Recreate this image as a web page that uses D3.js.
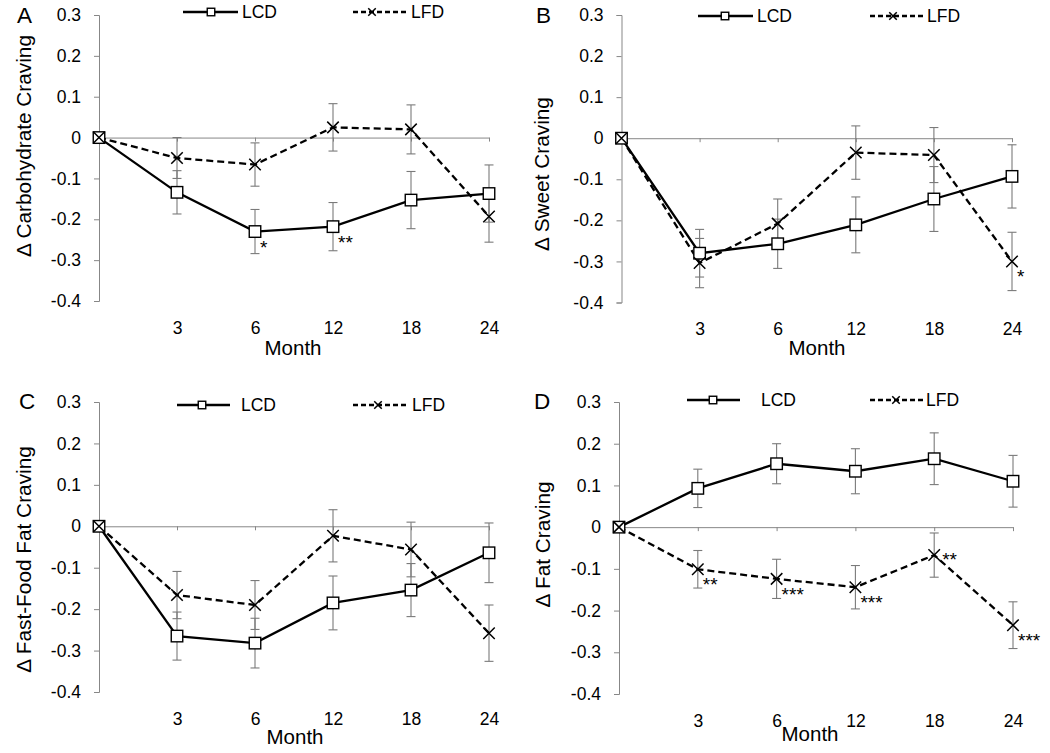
<!DOCTYPE html>
<html><head><meta charset="utf-8">
<script src="https://cdn.jsdelivr.net/npm/d3@7"></script>
<style>
body{margin:0;background:#fff}
svg{display:block}
text{font-family:"Liberation Sans",Arial,sans-serif;fill:#000}
</style>
</head><body>
<svg id="chart" width="1050" height="753"></svg>
<script>
// ---------- data ----------
const months = ["0","3","6","12","18","24"];
const xTickLabels = ["3","6","12","18","24"];
const yTicks = [-0.4,-0.3,-0.2,-0.1,0,0.1,0.2,0.3];
const seriesNames = ["LCD","LFD"];

// A: Carbohydrate craving
const lcdA   = [0, -0.134, -0.230, -0.218, -0.153, -0.137];
const lcdSeA = [0,  0.053,  0.054,  0.059,  0.070,  0.070];
const lfdA   = [0, -0.050, -0.066,  0.025,  0.020, -0.193];
const lfdSeA = [0,  0.050,  0.053,  0.058,  0.060,  0.063];
// B: Sweet craving
const lcdB   = [0, -0.280, -0.257, -0.211, -0.148, -0.093];
const lcdSeB = [0,  0.058,  0.060,  0.068,  0.079,  0.077];
const lfdB   = [0, -0.304, -0.208, -0.035, -0.041, -0.300];
const lfdSeB = [0,  0.060,  0.060,  0.065,  0.067,  0.071];
// C: Fast-food fat craving
const lcdC   = [0, -0.265, -0.282, -0.185, -0.154, -0.064];
const lcdSeC = [0,  0.058,  0.060,  0.065,  0.064,  0.072];
const lfdC   = [0, -0.166, -0.190, -0.023, -0.056, -0.258];
const lfdSeC = [0,  0.057,  0.059,  0.063,  0.066,  0.068];
// D: Fat craving
const lcdD   = [0,  0.093,  0.152,  0.134,  0.164,  0.110];
const lcdSeD = [0,  0.046,  0.048,  0.054,  0.062,  0.062];
const lfdD   = [0, -0.101, -0.124, -0.144, -0.067, -0.235];
const lfdSeD = [0,  0.045,  0.047,  0.052,  0.053,  0.056];

// significance markers
const sigA = [{series:"LCD", month:"6", label:"*", place:"below"},
              {series:"LCD", month:"12", label:"**", place:"below"}];
const sigB = [{series:"LFD", month:"24", label:"*", place:"below"}];
const sigC = [];
const sigD = [{series:"LFD", month:"3", label:"**", place:"below"},
              {series:"LFD", month:"6", label:"***", place:"below"},
              {series:"LFD", month:"12", label:"***", place:"below"},
              {series:"LFD", month:"18", label:"**", place:"right"},
              {series:"LFD", month:"24", label:"***", place:"below"}];

const panels = [
  {letter:"A", title:"\u0394 Carbohydrate Craving", lcd:lcdA, lcdSe:lcdSeA, lfd:lfdA, lfdSe:lfdSeA, sig:sigA},
  {letter:"B", title:"\u0394 Sweet Craving",        lcd:lcdB, lcdSe:lcdSeB, lfd:lfdB, lfdSe:lfdSeB, sig:sigB},
  {letter:"C", title:"\u0394 Fast-Food Fat Craving",lcd:lcdC, lcdSe:lcdSeC, lfd:lfdC, lfdSe:lfdSeC, sig:sigC},
  {letter:"D", title:"\u0394 Fat Craving",          lcd:lcdD, lcdSe:lcdSeD, lfd:lfdD, lfdSe:lfdSeD, sig:sigD}
];

// ---------- layout ----------
const layout = {
  A:{x0:99,   x1:489,  top:15,  bottom:301,   titleX:31,  titleY:146,  letterX:17,  letterY:23,
     legY:12,  lcdLine:[183,238], lcdMark:211, lcdText:242, lfdLine:[353,408], lfdMark:372, lfdText:411, monthX:293, monthY:355},
  B:{x0:621.5,x1:1012, top:15,  bottom:302.5, titleX:549, titleY:174,  letterX:536, letterY:23,
     legY:16,  lcdLine:[698,753], lcdMark:725, lcdText:757, lfdLine:[870,925], lfdMark:893, lfdText:927, monthX:817, monthY:355},
  C:{x0:99,   x1:489,  top:402, bottom:692,   titleX:31,  titleY:559.5,letterX:19,  letterY:409,
     legY:405, lcdLine:[177,230], lcdMark:202, lcdText:241, lfdLine:[353,408], lfdMark:378, lfdText:412, monthX:295, monthY:744},
  D:{x0:619,  x1:1013, top:402, bottom:694,   titleX:550, titleY:544.5,letterX:534, letterY:409,
     legY:400, lcdLine:[687,740], lcdMark:713, lcdText:761, lfdLine:[870,925], lfdMark:896, lfdText:926, monthX:810, monthY:741}
};
const axisColor = "#878787";
const errColor = "#7a7a7a";
const sigOffset = {below:{dx:5, dy:22}, right:{dx:8, dy:11}};
const tickFont = 17.5, titleFont = 20.8, monthFont = 20.5, legendFont = 17.5, starFont = 19, letterFont = 22.5;

const svg = d3.select("#chart");
svg.append("rect").attr("width",1050).attr("height",753).attr("fill","#fff");

const FONT = '"Liberation Sans",Arial,sans-serif';

function squareMarker(sel, size){
  sel.append("rect").attr("x",-size/2).attr("y",-size/2).attr("width",size).attr("height",size)
    .attr("fill","#fff").attr("stroke","#000").attr("stroke-width",1.4);
}
function crossMarker(sel, size){
  const h = size/2;
  sel.append("path").attr("d",`M${-h},${-h}L${h},${h}M${-h},${h}L${h},${-h}`)
    .attr("stroke","#000").attr("stroke-width",1.5).attr("fill","none");
}

panels.forEach(p => {
  const L = layout[p.letter];
  const g = svg.append("g");
  const x = d3.scalePoint().domain(months).range([L.x0, L.x1]);
  const y = d3.scaleLinear().domain([-0.4, 0.3]).range([L.bottom, L.top]);

  // y axis
  const ya = g.append("g").attr("transform",`translate(${L.x0},0)`)
    .call(d3.axisLeft(y).tickValues(yTicks).tickSize(5).tickSizeOuter(5).tickPadding(13)
      .tickFormat(v => Math.abs(v) < 1e-9 ? "0" : v.toFixed(1)));
  ya.attr("font-family",FONT).attr("font-size",tickFont);
  ya.selectAll("path,line").attr("stroke",axisColor).attr("stroke-width",1);
  ya.selectAll("text").attr("fill","#000");

  // zero line with ticks
  const za = g.append("g").attr("transform",`translate(0,${y(0)})`)
    .call(d3.axisBottom(x).tickValues(xTickLabels).tickSize(4).tickSizeOuter(0).tickFormat(""));
  za.selectAll("path,line").attr("stroke",axisColor).attr("stroke-width",1);

  // x labels at bottom
  const xl = g.append("g").attr("transform",`translate(0,${L.bottom + 20.5})`)
    .call(d3.axisBottom(x).tickValues(xTickLabels).tickSize(0).tickPadding(0));
  xl.attr("font-family",FONT).attr("font-size",tickFont);
  xl.select(".domain").remove();
  xl.selectAll("text").attr("fill","#000");

  // Month label
  g.append("text").attr("x",L.monthX).attr("y",L.monthY).attr("text-anchor","middle")
    .attr("font-size",monthFont).text("Month");

  // y title
  g.append("text").attr("transform",`translate(${L.titleX},${L.titleY}) rotate(-90)`)
    .attr("text-anchor","middle").attr("font-size",titleFont).text(p.title);

  // panel letter
  g.append("text").attr("x",L.letterX).attr("y",L.letterY).attr("font-size",letterFont).text(p.letter);

  const series = [
    {name:"LCD", vals:p.lcd, se:p.lcdSe, dash:null},
    {name:"LFD", vals:p.lfd, se:p.lfdSe, dash:"7,4"}
  ];

  // error bars
  series.forEach(s => {
    const eb = g.append("g").attr("stroke",errColor).attr("stroke-width",1.1);
    s.vals.forEach((v,i) => {
      if (s.se[i] <= 0) return;
      const cx = x(months[i]), y1 = y(v + s.se[i]), y2 = y(v - s.se[i]);
      eb.append("line").attr("x1",cx).attr("x2",cx).attr("y1",y1).attr("y2",y2);
      eb.append("line").attr("x1",cx-4.5).attr("x2",cx+4.5).attr("y1",y1).attr("y2",y1);
      eb.append("line").attr("x1",cx-4.5).attr("x2",cx+4.5).attr("y1",y2).attr("y2",y2);
    });
  });

  // lines
  const line = d3.line().x((d,i) => x(months[i])).y(d => y(d));
  series.forEach(s => {
    g.append("path").datum(s.vals).attr("d",line).attr("fill","none")
      .attr("stroke","#000").attr("stroke-width",2.3)
      .attr("stroke-dasharray", s.dash);
  });

  // markers
  series.forEach(s => {
    s.vals.forEach((v,i) => {
      const m = g.append("g").attr("transform",`translate(${x(months[i])},${y(v)})`);
      if (s.name === "LCD") squareMarker(m, 11.5); else crossMarker(m, 11.5);
    });
  });

  // significance stars
  p.sig.forEach(sg => {
    const vals = sg.series === "LCD" ? p.lcd : p.lfd;
    const i = months.indexOf(sg.month);
    const off = sigOffset[sg.place];
    g.append("text").attr("x", x(sg.month) + off.dx).attr("y", y(vals[i]) + off.dy)
      .attr("font-size",starFont).text(sg.label);
  });

  // legend
  const lg = g.append("g");
  lg.append("line").attr("x1",L.lcdLine[0]).attr("x2",L.lcdLine[1]).attr("y1",L.legY).attr("y2",L.legY)
    .attr("stroke","#000").attr("stroke-width",2.3);
  squareMarker(lg.append("g").attr("transform",`translate(${L.lcdMark},${L.legY})`), 7.5);
  lg.append("text").attr("x",L.lcdText).attr("y",L.legY+6.2).attr("font-size",legendFont).text(seriesNames[0]);
  lg.append("line").attr("x1",L.lfdLine[0]).attr("x2",L.lfdLine[1]).attr("y1",L.legY).attr("y2",L.legY)
    .attr("stroke","#000").attr("stroke-width",2.3).attr("stroke-dasharray","5,3");
  crossMarker(lg.append("g").attr("transform",`translate(${L.lfdMark},${L.legY})`), 7.5);
  lg.append("text").attr("x",L.lfdText).attr("y",L.legY+6.2).attr("font-size",legendFont).text(seriesNames[1]);
});
</script>
</body></html>
